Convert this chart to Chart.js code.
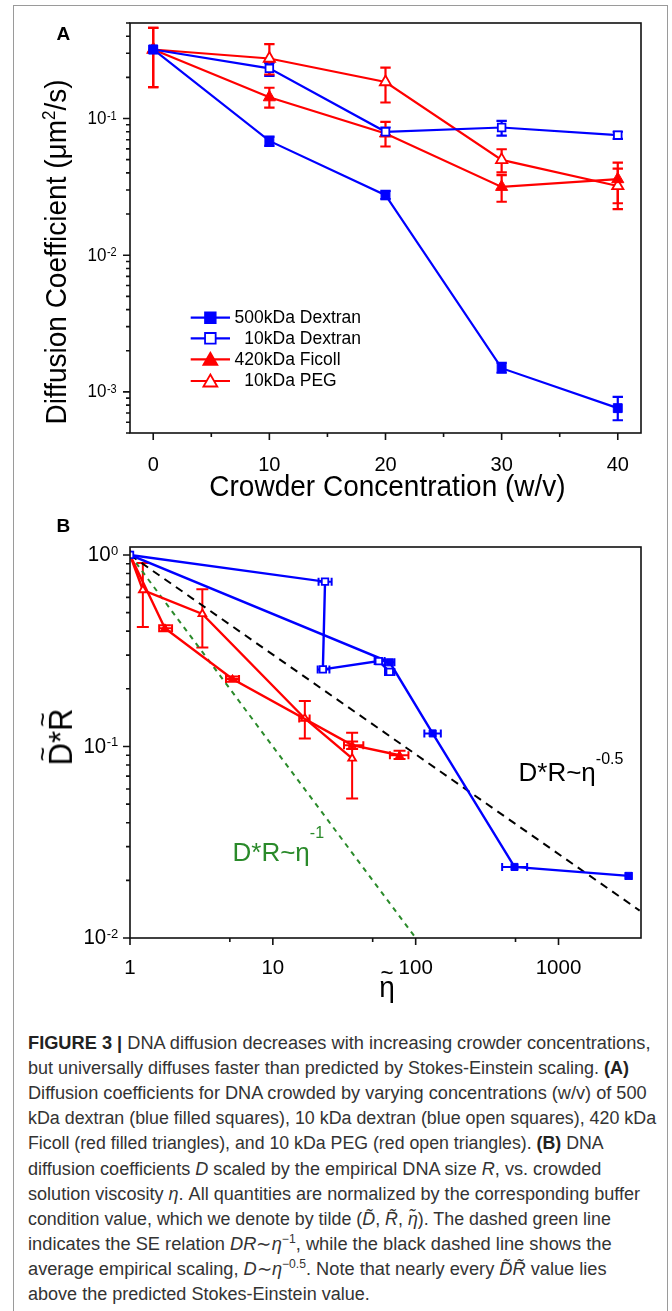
<!DOCTYPE html>
<html>
<head>
<meta charset="utf-8">
<script src="https://cdn.jsdelivr.net/npm/chart.js@4.4.1/dist/chart.umd.min.js"></script>
<style>
html,body{margin:0;padding:0;background:#fff;}
body{width:672px;height:1311px;position:relative;overflow:hidden;font-family:'Liberation Sans',Arial,sans-serif;}
#frame{position:absolute;left:13px;top:5px;width:655px;height:1330px;border:1.5px solid #9a9a9a;box-sizing:border-box;}
.cv{position:absolute;left:0;}
.t{position:absolute;white-space:nowrap;color:#000;line-height:1;}
.rot{transform:translate(-50%,-50%) rotate(-90deg) scaleY(1.05);}
.ctr{transform:translate(-50%,-50%) scaleY(1.05);}
.acc{position:relative;display:inline-block;}
.til{position:absolute;left:50%;transform:translateX(-50%);font-size:0.8em;line-height:1;}
.sp{position:relative;}
.cap{position:absolute;left:28.4px;white-space:nowrap;font-size:18px;line-height:24px;color:#333;transform-origin:0 50%;}
.cap b{color:#222;}
.cap sup{font-size:12px;vertical-align:7px;line-height:0;}
</style>
</head>
<body>
<div id="frame"></div>
<canvas id="cA" class="cv" width="672" height="500" style="top:0px"></canvas>
<canvas id="cB" class="cv" width="672" height="500" style="top:500px"></canvas>

<div class="t" style="left:56.5px;top:24px;font-size:19px;font-weight:bold;">A</div>
<div class="t" style="left:56.5px;top:516px;font-size:19px;font-weight:bold;">B</div>

<div class="t rot" style="left:57px;top:252px;font-size:28px;">Diffusion Coefficient (μm<span class="sp" style="font-size:17px;top:-11px;">2</span>/s)</div>
<div class="t ctr" style="left:387.5px;top:487px;font-size:28px;">Crowder Concentration (w/v)</div>

<div class="t rot" style="left:61px;top:737px;font-size:31px;"><span class="acc">D<span class="til" style="top:-0.55em;">~</span></span>*<span class="acc">R<span class="til" style="top:-0.55em;">~</span></span></div>
<div class="t ctr" style="left:387px;top:988px;font-size:28px;"><span class="acc">η<span class="til" style="top:-0.5em;">~</span></span></div>

<div class="t" style="left:518.5px;top:759px;font-size:26px;">D*R~η<span class="sp" style="font-size:16px;top:-17px;">-0.5</span></div>
<div class="t" style="left:232.5px;top:839px;font-size:26px;color:#2a8a2a;">D*R~η<span class="sp" style="font-size:16px;top:-23px;">-1</span></div>

<div id="caption">
<div class="cap" data-w="622.5" style="top:1031px;"><b>FIGURE 3 |</b> DNA diffusion decreases with increasing crowder concentrations,</div>
<div class="cap" data-w="601" style="top:1056px;">but universally diffuses faster than predicted by Stokes-Einstein scaling. <b>(A)</b></div>
<div class="cap" data-w="618.6" style="top:1081px;">Diffusion coefficients for DNA crowded by varying concentrations (w/v) of 500</div>
<div class="cap" data-w="628.1" style="top:1106px;">kDa dextran (blue filled squares), 10 kDa dextran (blue open squares), 420 kDa</div>
<div class="cap" data-w="575.6" style="top:1131px;">Ficoll (red filled triangles), and 10 kDa PEG (red open triangles). <b>(B)</b> DNA</div>
<div class="cap" data-w="573.4" style="top:1157px;">diffusion coefficients <i>D</i> scaled by the empirical DNA size <i>R</i>, vs. crowded</div>
<div class="cap" data-w="612.1" style="top:1182px;">solution viscosity <i>η</i>. All quantities are normalized by the corresponding buffer</div>
<div class="cap" data-w="582.9" style="top:1207px;">condition value, which we denote by tilde (<i>D̃</i>, <i>R̃</i>, <i>η̃</i>). The dashed green line</div>
<div class="cap" data-w="583.6" style="top:1232px;">indicates the SE relation <i>DR</i>∼<i>η</i><sup>−1</sup>, while the black dashed line shows the</div>
<div class="cap" data-w="578.6" style="top:1257px;">average empirical scaling, <i>D</i>∼<i>η</i><sup>−0.5</sup>. Note that nearly every <i>D̃R̃</i> value lies</div>
<div class="cap" data-w="341.8" style="top:1282px;">above the predicted Stokes-Einstein value.</div>
</div>

<script>
// ---------------- DATA: panel A ----------------
const concA = [0, 10, 20, 30, 40];
const dex500 = [0.32, 0.0686, 0.0275, 0.00149, 0.00076];
const dex500Lo = [0.32, 0.063, 0.0257, 0.00138, 0.00062];
const dex500Hi = [0.32, 0.0738, 0.0296, 0.00163, 0.00092];
const dex10 = [0.32, 0.233, 0.080, 0.086, 0.0755];
const dex10Lo = [0.32, 0.205, 0.075, 0.075, 0.071];
const dex10Hi = [0.32, 0.255, 0.086, 0.096, 0.080];
const fic420 = [0.32, 0.143, 0.0777, 0.0316, 0.036];
const fic420Lo = [0.17, 0.12, 0.0624, 0.0246, 0.024];
const fic420Hi = [0.46, 0.168, 0.0945, 0.0386, 0.043];
const peg10 = [0.32, 0.275, 0.185, 0.0498, 0.0321];
const peg10Lo = [0.17, 0.21, 0.131, 0.0403, 0.0217];
const peg10Hi = [0.46, 0.35, 0.236, 0.0596, 0.0476];
const legendA = ['500kDa Dextran', '  10kDa Dextran', '420kDa Ficoll', '  10kDa PEG'];
const xTicksA = [0, 10, 20, 30, 40];
const xTickLabelsA = ['0', '10', '20', '30', '40'];
const xMinorA = [5, 15, 25, 35];
const yTicksA = [0.001, 0.01, 0.1];
const yTickExpA = ['-3', '-2', '-1'];

// ---------------- DATA: panel B ----------------
const eta10Dex = [1, 23.2, 22.4, 55.2, 65.8];
const dr10Dex = [1, 0.725, 0.2525, 0.279, 0.245];
const eta10DexLo = [1, 20.9, 20.6, 51.6, 61];
const eta10DexHi = [1, 25.8, 24.9, 60.6, 71];
const eta500Dex = [1, 65.8, 131.5, 492, 3097];
const dr500Dex = [1, 0.275, 0.117, 0.0235, 0.0211];
const eta500DexLo = [1, 61, 115, 403, 2950];
const eta500DexHi = [1, 71, 150, 603, 3250];
const etaFic = [1, 1.755, 5.22, 35.9, 77.1];
const drFic = [1, 0.414, 0.225, 0.1016, 0.090];
const etaFicLo = [1, 1.6, 4.7, 31.5, 66];
const etaFicHi = [1, 1.97, 5.8, 43, 89];
const drFicLo = [1, 0.40, 0.218, 0.097, 0.086];
const drFicHi = [1, 0.43, 0.232, 0.106, 0.095];
const etaPeg = [1, 1.23, 3.21, 16.75, 35.9];
const drPeg = [1, 0.656, 0.492, 0.140, 0.0866];
const drPegLo = [1, 0.42, 0.329, 0.110, 0.0535];
const drPegHi = [1, 0.908, 0.662, 0.1725, 0.118];
const etaPegLo = [1, 1.23, 3.21, 15.3, 35.9];
const etaPegHi = [1, 1.23, 3.21, 18.1, 35.9];
const fitEta = [1, 3700];
const fitDR = [1, 0.0139];
const seEta = [1, 100];
const seDR = [1, 0.01];
const xTicksB = [1, 10, 100, 1000];
const xTickLabelsB = ['1', '10', '100', '1000'];
const xMinorB = [5, 50, 500];
const yTicksB = [0.01, 0.1, 1];
const yTickExpB = ['-2', '-1', '0'];

// ---------------- helpers ----------------
const FF = "'Liberation Sans', Arial, sans-serif";
const BLUE = '#0000ff', RED = '#ff0000', GREEN = '#2a8a2a';
const pts = (xs, ys) => xs.map((x, i) => ({x: x, y: ys[i]}));
const minorLog = (lo, hi) => { const out = []; for (let e = lo; e <= hi; e++) for (let k = 2; k <= 9; k++) out.push(k * Math.pow(10, e)); return out; };

function marker(ctx, style, x, y, r, color, filled, lw) {
  ctx.beginPath();
  if (style === 'rect') {
    const s = r * Math.SQRT1_2; ctx.rect(x - s, y - s, 2 * s, 2 * s);
  } else {
    const a = 2 * Math.PI / 3;
    ctx.moveTo(x, y - r);
    ctx.lineTo(x + Math.sin(a) * r, y - Math.cos(a) * r);
    ctx.lineTo(x - Math.sin(a) * r, y - Math.cos(a) * r);
    ctx.closePath();
  }
  ctx.fillStyle = filled ? color : '#fff'; ctx.fill();
  ctx.lineWidth = lw; ctx.strokeStyle = color; ctx.stroke();
}

const deco = {
  id: 'deco',
  beforeDatasetsDraw(chart) {
    const o = chart.options.plugins.deco; if (!o) return;
    const {ctx} = chart; const xs = chart.scales.x, ys = chart.scales.y;
    ctx.save();
    ctx.beginPath(); const a = chart.chartArea; ctx.rect(a.left, a.top, a.right - a.left, a.bottom - a.top); ctx.clip();
    chart.data.datasets.forEach(ds => {
      if (!ds.errYLo && !ds.errXLo) return;
      ctx.strokeStyle = ds.borderColor; ctx.lineWidth = o.errLw;
      ds.data.forEach((p, i) => {
        const px = xs.getPixelForValue(p.x), py = ys.getPixelForValue(p.y);
        ctx.beginPath();
        if (ds.errYLo && (ds.errYLo[i] !== p.y || ds.errYHi[i] !== p.y)) {
          const p1 = ys.getPixelForValue(ds.errYLo[i]), p2 = ys.getPixelForValue(ds.errYHi[i]);
          ctx.moveTo(px, p1); ctx.lineTo(px, p2);
          ctx.moveTo(px - o.capY, p1); ctx.lineTo(px + o.capY, p1);
          ctx.moveTo(px - o.capY, p2); ctx.lineTo(px + o.capY, p2);
        }
        if (ds.errXLo && (ds.errXLo[i] !== p.x || ds.errXHi[i] !== p.x)) {
          const q1 = xs.getPixelForValue(ds.errXLo[i]), q2 = xs.getPixelForValue(ds.errXHi[i]);
          ctx.moveTo(q1, py); ctx.lineTo(q2, py);
          ctx.moveTo(q1, py - o.capX); ctx.lineTo(q1, py + o.capX);
          ctx.moveTo(q2, py - o.capX); ctx.lineTo(q2, py + o.capX);
        }
        ctx.stroke();
      });
    });
    ctx.restore();
  },
  afterDraw(chart) {
    const o = chart.options.plugins.deco; if (!o) return;
    const {ctx} = chart; const a = chart.chartArea;
    const xs = chart.scales.x, ys = chart.scales.y;
    ctx.save();
    ctx.strokeStyle = '#111'; ctx.lineWidth = 1.6;
    ctx.strokeRect(a.left, a.top, a.right - a.left, a.bottom - a.top);
    ctx.beginPath();
    o.xMajor.forEach(v => { const p = xs.getPixelForValue(v); ctx.moveTo(p, a.bottom); ctx.lineTo(p, a.bottom + o.majorLen); });
    o.xMinor.forEach(v => { const p = xs.getPixelForValue(v); ctx.moveTo(p, a.bottom); ctx.lineTo(p, a.bottom + o.minorLen); });
    o.yMajor.forEach(v => { const p = ys.getPixelForValue(v); ctx.moveTo(a.left, p); ctx.lineTo(a.left - o.majorLen, p); });
    o.yMinor.forEach(v => { if (v < ys.min || v > ys.max) return; const p = ys.getPixelForValue(v); ctx.moveTo(a.left, p); ctx.lineTo(a.left - o.minorLen, p); });
    ctx.stroke();
    // y tick labels 10^n
    ctx.fillStyle = '#000'; ctx.textAlign = 'left';
    o.yMajor.forEach((v, i) => {
      const p = ys.getPixelForValue(v); const ex = o.yExp[i];
      ctx.font = o.yBase + 'px ' + FF; const bw = ctx.measureText('10').width;
      ctx.font = o.yExpSize + 'px ' + FF; const ew = ctx.measureText(ex).width;
      const x0 = a.left - o.yGap - ew - bw - 0.5;
      ctx.save(); ctx.translate(0, p); ctx.scale(1, o.yStretch);
      ctx.font = o.yBase + 'px ' + FF; ctx.textBaseline = 'middle'; ctx.fillText('10', x0, o.yBaseDy);
      ctx.font = o.yExpSize + 'px ' + FF; ctx.textBaseline = 'alphabetic'; ctx.fillText(ex, x0 + bw + 0.5, o.yExpDy);
      ctx.restore();
    });
    // legend
    if (o.legend) {
      const L = o.legend;
      chart.data.datasets.forEach((ds, i) => {
        const y = L.rows[i];
        ctx.strokeStyle = ds.borderColor; ctx.lineWidth = ds.borderWidth;
        ctx.beginPath(); ctx.moveTo(L.x0, y); ctx.lineTo(L.x1, y); ctx.stroke();
        const st = ds.pointStyle; const filled = ds.pointBackgroundColor !== '#fff';
        marker(ctx, st, (L.x0 + L.x1) / 2, st === 'rect' ? y : y + 1.5, st === 'rect' ? L.rSq : L.rTri, ds.borderColor, filled, 1.8);
        ctx.fillStyle = '#000'; ctx.font = L.font + 'px ' + FF; ctx.textBaseline = 'middle'; ctx.textAlign = 'left';
        ctx.fillText(o.legend.labels[i], L.tx, y + 0.5);
      });
    }
    ctx.restore();
  }
};

function ser(label, xs, ys, color, style, filled, r, extra) {
  return Object.assign({
    label: label, data: pts(xs, ys), showLine: true, borderColor: color, backgroundColor: color,
    borderWidth: 2.2, pointStyle: style, pointRadius: r, pointHoverRadius: r,
    pointBackgroundColor: filled ? color : '#fff', pointBorderColor: color, pointBorderWidth: filled ? 1 : 1.8
  }, extra || {});
}

// ---------------- Chart A ----------------
new Chart(document.getElementById('cA'), {
  type: 'scatter',
  data: { datasets: [
    ser('500kDa Dextran', concA, dex500, BLUE, 'rect', true, 6.3, {errYLo: dex500Lo, errYHi: dex500Hi}),
    ser('10kDa Dextran', concA, dex10, BLUE, 'rect', false, 5.4, {errYLo: dex10Lo, errYHi: dex10Hi}),
    ser('420kDa Ficoll', concA, fic420, RED, 'triangle', true, 7, {errYLo: fic420Lo, errYHi: fic420Hi}),
    ser('10kDa PEG', concA, peg10, RED, 'triangle', false, 6.5, {errYLo: peg10Lo, errYHi: peg10Hi})
  ]},
  options: {
    responsive: false, animation: false, devicePixelRatio: 1, events: [],
    layout: { padding: { top: 23, right: 31, left: 0, bottom: 0 } },
    plugins: {
      legend: { display: false }, tooltip: { enabled: false },
      deco: {
        errLw: 2.2, capY: 5.2, capX: 4,
        xMajor: xTicksA, xMinor: xMinorA, yMajor: yTicksA, yMinor: minorLog(-4, -1), yExp: yTickExpA,
        majorLen: 7, minorLen: 4, yBase: 17, yExpSize: 11, yGap: 13.3, yBaseDy: 0.5, yExpDy: 1, yStretch: 1.08,
        legend: { rows: [317.7, 338.3, 359.3, 381], x0: 190.7, x1: 230, tx: 234.6, font: 17.5, rSq: 7.5, rTri: 8, labels: legendA }
      }
    },
    scales: {
      x: { type: 'linear', min: -2, max: 42, bounds: 'data', grid: { display: false }, border: { display: false },
        ticks: { font: { size: 20, family: FF }, color: '#000', padding: 12, maxRotation: 0, autoSkip: false,
          callback: (v, i) => xTickLabelsA[i] },
        afterBuildTicks: s => { s.ticks = xTicksA.map(v => ({ value: v })); },
        afterFit: s => { s.height = 67; } },
      y: { type: 'logarithmic', min: 5e-4, max: 0.5, bounds: 'data', grid: { display: false }, border: { display: false },
        ticks: { display: false },
        afterFit: s => { s.width = 130; } }
    }
  },
  plugins: [deco]
});

// ---------------- Chart B ----------------
new Chart(document.getElementById('cB'), {
  type: 'scatter',
  data: { datasets: [
    ser('10kDa Dextran', eta10Dex, dr10Dex, BLUE, 'rect', false, 4.6, {borderWidth: 2.4, errXLo: eta10DexLo, errXHi: eta10DexHi}),
    ser('500kDa Dextran', eta500Dex, dr500Dex, BLUE, 'rect', true, 5, {borderWidth: 2.4, errXLo: eta500DexLo, errXHi: eta500DexHi}),
    ser('420kDa Ficoll', etaFic, drFic, RED, 'triangle', true, 4.5, {borderWidth: 2.4, errXLo: etaFicLo, errXHi: etaFicHi, errYLo: drFicLo, errYHi: drFicHi}),
    ser('10kDa PEG', etaPeg, drPeg, RED, 'triangle', false, 4.5, {borderWidth: 2.4, errXLo: etaPegLo, errXHi: etaPegHi, errYLo: drPegLo, errYHi: drPegHi}),
    { label: 'fit', data: pts(fitEta, fitDR), showLine: true, borderColor: '#000', borderWidth: 2, borderDash: [8, 6], pointRadius: 0 },
    { label: 'SE', data: pts(seEta, seDR), showLine: true, borderColor: GREEN, borderWidth: 2, borderDash: [5, 5], pointRadius: 0 }
  ]},
  options: {
    responsive: false, animation: false, devicePixelRatio: 1, events: [],
    layout: { padding: { top: 47, right: 31, left: 0, bottom: 0 } },
    plugins: {
      legend: { display: false }, tooltip: { enabled: false },
      deco: {
        errLw: 2, capY: 6, capX: 4,
        xMajor: xTicksB, xMinor: xMinorB, yMajor: yTicksB, yMinor: minorLog(-2, -1), yExp: yTickExpB,
        majorLen: 7, minorLen: 4, yBase: 20.5, yExpSize: 13, yGap: 11.7, yBaseDy: 0.5, yExpDy: 0, yStretch: 1.05
      }
    },
    scales: {
      x: { type: 'logarithmic', min: 1, max: 3780, bounds: 'data', grid: { display: false }, border: { display: false },
        ticks: { font: { size: 20.5, family: FF }, color: '#000', padding: 10, maxRotation: 0, autoSkip: false,
          callback: (v, i) => xTickLabelsB[i] },
        afterBuildTicks: s => { s.ticks = xTicksB.map(v => ({ value: v })); },
        afterFit: s => { s.height = 62; } },
      y: { type: 'logarithmic', min: 0.01, max: 1.1, bounds: 'data', grid: { display: false }, border: { display: false },
        ticks: { display: false },
        afterFit: s => { s.width = 130; } }
    }
  },
  plugins: [deco]
});

// fit caption lines to their measured widths
function fitCaption() {
  document.querySelectorAll('.cap').forEach(el => {
    el.style.transform = 'none';
    const w = el.getBoundingClientRect().width;
    const target = parseFloat(el.dataset.w);
    el.style.transform = 'scaleX(' + (target / w) + ')';
  });
}
fitCaption();
if (document.fonts && document.fonts.ready) document.fonts.ready.then(fitCaption);
</script>
</body>
</html>
